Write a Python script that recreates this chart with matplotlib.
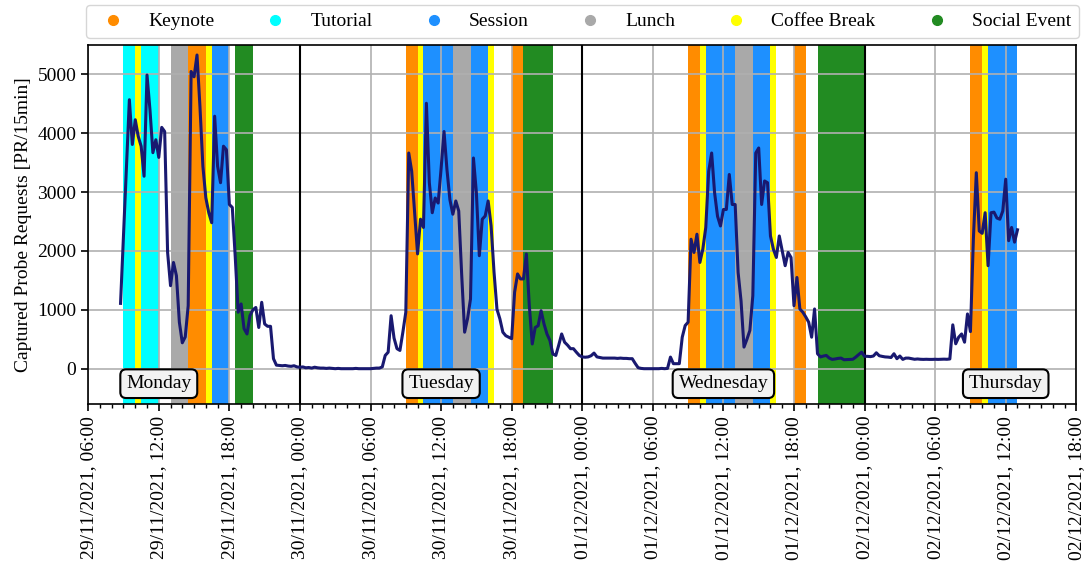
import pandas as pd
import matplotlib
matplotlib.use("Agg")
import matplotlib.pyplot as plt
import matplotlib.dates as mdates
from matplotlib.lines import Line2D

plt.rcParams["font.family"] = ["Liberation Serif", "DejaVu Serif"]
plt.rcParams["font.size"] = 14

# captured probe requests per 15 min, one list per day
mon_start = "2021-11-29 08:45"
mon_pr = [1110,
          2260, 3420, 4570, 3810, 4230, 3950, 3780, 3270,
          4990, 4400, 3670, 3890, 3590, 4100, 4030, 1975,
          1410, 1805, 1580, 790, 440, 540, 1070, 5050,
          4960, 5330, 4455, 3440, 2905, 2650, 2480, 4290,
          3440, 3160, 3780, 3720, 2790, 2740, 1900, 960,
          1100, 680, 590, 900, 1000, 1040, 700, 1128,
          760, 720, 720, 170, 60, 55, 50, 55,
          45, 40, 50, 30]

tue_start = "2021-11-30 00:00"
tue_pr = [25, 30, 15, 20, 10, 25, 15, 10,
          10, 5, 10, 5, 0, 5, 0, 0,
          0, 0, 0, 5, 0, 0, 0, 0,
          0, 5, 10, 10, 30, 225, 280, 900,
          520, 340, 310, 620, 960, 3665, 3355, 2650,
          1950, 2540, 2400, 4510, 3160, 2650, 2900, 2815,
          3400, 4030, 3380, 2870, 2625, 2850, 2680, 1600,
          620, 850, 1185, 3580, 2990, 1920, 2540, 2595,
          2850, 2430, 1640, 1010, 845, 620, 560, 535,
          510, 1300, 1610, 1525, 1525, 1950, 1070, 420,
          700, 730, 985, 760, 590, 480, 250, 225,
          400, 590, 450, 400, 340, 340, 280, 225]

wed_start = "2021-12-01 00:00"
wed_pr = [200, 195, 200, 220, 265, 200, 190, 180,
          180, 180, 180, 180, 175, 180, 175, 175,
          170, 170, 90, 17, 5, 0, 0, 0,
          0, 0, 0, 5, 0, 5, 197, 85,
          85, 85, 535, 733, 790, 2200, 1975, 2285,
          1805, 2030, 2400, 3355, 3665, 2990, 2590, 2425,
          2705, 2705, 3300, 2790, 2790, 1635, 1150, 367,
          500, 650, 1240, 3665, 3750, 2790, 3190, 3160,
          2255, 2030, 1890, 2255, 2000, 1750, 1975, 1890,
          1070, 1550, 1015, 960, 880, 790, 535, 1015,
          254, 200, 215, 225, 180, 158, 165, 175,
          180, 152, 155, 158, 160, 197, 240, 280]

thu_start = "2021-12-02 00:00"
thu_pr = [210, 210, 205, 215, 270, 220, 209, 200,
          197, 190, 254, 170, 215, 158, 180, 180,
          170, 160, 165, 160, 158, 160, 158, 158,
          160, 158, 160, 162, 160, 165, 745, 423,
          535, 590, 450, 930, 630, 2200, 3330, 2340,
          2300, 2650, 1750, 2650, 2660, 2560, 2540, 2680,
          3220, 2175, 2400, 2150, 2360]

# conference programme
event_start = ["2021-11-29 09:00", "2021-11-29 10:00", "2021-11-29 10:30", "2021-11-29 13:00",
               "2021-11-29 14:30", "2021-11-29 16:00", "2021-11-29 16:30", "2021-11-29 18:30",
               "2021-11-30 09:00", "2021-11-30 10:00", "2021-11-30 10:30", "2021-11-30 13:00",
               "2021-11-30 14:30", "2021-11-30 16:00", "2021-11-30 18:00", "2021-11-30 19:00",
               "2021-12-01 09:00", "2021-12-01 10:00", "2021-12-01 10:30", "2021-12-01 13:00",
               "2021-12-01 14:30", "2021-12-01 16:00", "2021-12-01 18:00", "2021-12-01 20:00",
               "2021-12-02 09:00", "2021-12-02 10:00", "2021-12-02 10:30"]
event_end = ["2021-11-29 10:00", "2021-11-29 10:30", "2021-11-29 12:00", "2021-11-29 14:30",
             "2021-11-29 16:00", "2021-11-29 16:30", "2021-11-29 18:00", "2021-11-29 20:00",
             "2021-11-30 10:00", "2021-11-30 10:30", "2021-11-30 13:00", "2021-11-30 14:30",
             "2021-11-30 16:00", "2021-11-30 16:30", "2021-11-30 19:00", "2021-11-30 21:30",
             "2021-12-01 10:00", "2021-12-01 10:30", "2021-12-01 13:00", "2021-12-01 14:30",
             "2021-12-01 16:00", "2021-12-01 16:30", "2021-12-01 19:00", "2021-12-02 00:00",
             "2021-12-02 10:00", "2021-12-02 10:30", "2021-12-02 13:00"]
event_type = ["Tutorial", "Coffee Break", "Tutorial", "Lunch",
              "Keynote", "Coffee Break", "Session", "Social Event",
              "Keynote", "Coffee Break", "Session", "Lunch",
              "Session", "Coffee Break", "Keynote", "Social Event",
              "Keynote", "Coffee Break", "Session", "Lunch",
              "Session", "Coffee Break", "Keynote", "Social Event",
              "Keynote", "Coffee Break", "Session"]

event_names = ["Keynote", "Tutorial", "Session", "Lunch", "Coffee Break", "Social Event"]
event_colors = ["darkorange", "cyan", "dodgerblue", "darkgray", "yellow", "forestgreen"]

day_names = ["Monday", "Tuesday", "Wednesday", "Thursday"]
day_noon = ["2021-11-29 12:00", "2021-11-30 12:00", "2021-12-01 12:00", "2021-12-02 12:00"]
midnights = ["2021-11-30 00:00", "2021-12-01 00:00", "2021-12-02 00:00"]

parts = []
for start, vals in [(mon_start, mon_pr), (tue_start, tue_pr), (wed_start, wed_pr), (thu_start, thu_pr)]:
    idx = pd.date_range(start, periods=len(vals), freq="15min")
    parts.append(pd.Series(vals, index=idx))
pr = pd.concat(parts)

color_of = dict(zip(event_names, event_colors))

fig = plt.figure(figsize=(10.84, 5.67), dpi=100)
ax = fig.add_axes([88.2 / 1084, 1 - 404 / 567, (1076.3 - 88.2) / 1084, (404 - 45) / 567])

for s, e, t in zip(event_start, event_end, event_type):
    ax.axvspan(pd.Timestamp(s), pd.Timestamp(e), color=color_of[t], lw=0, zorder=1)

ax.grid(True, which="major", color="#b0b0b0", lw=1.2, zorder=1.5)
for m in midnights:
    ax.axvline(pd.Timestamp(m), color="black", lw=1.5, zorder=2.5)

ax.plot(pr.index, pr.values, color="midnightblue", lw=2.2, zorder=3)

for name, noon in zip(day_names, day_noon):
    ax.text(pd.Timestamp(noon), -255, name, ha="center", va="center", fontsize=14, zorder=4,
            bbox=dict(boxstyle="round,pad=0.3", fc="#f2f2f2", ec="black", lw=1.5))

ax.set_xlim(pd.Timestamp("2021-11-29 06:00"), pd.Timestamp("2021-12-02 18:00"))
ax.set_ylim(-600, 5500)
ax.set_yticks([0, 1000, 2000, 3000, 4000, 5000])
ax.xaxis.set_major_locator(mdates.HourLocator(byhour=[0, 6, 12, 18]))
ax.xaxis.set_minor_locator(mdates.HourLocator())
ax.xaxis.set_major_formatter(mdates.DateFormatter("%d/%m/%Y, %H:%M"))
plt.setp(ax.get_xticklabels(), rotation=90, ha="center")
ax.tick_params(which="major", length=5, width=1.2, color="black")
ax.tick_params(which="minor", length=3, width=1.0, color="black")
for sp in ax.spines.values():
    sp.set_color("black")
    sp.set_linewidth(1.2)

ax.set_ylabel("Captured Probe Requests [PR/15min]", fontsize=14)

handles = [Line2D([], [], marker="o", ls="none", color=c, markersize=7) for c in event_colors]
ax.legend(handles, event_names, loc="lower center", bbox_to_anchor=(0.5, 1.0), ncol=6,
          fontsize=14, borderaxespad=0.35, fancybox=True, columnspacing=2.15)

fig.savefig("out.png", dpi=100)
